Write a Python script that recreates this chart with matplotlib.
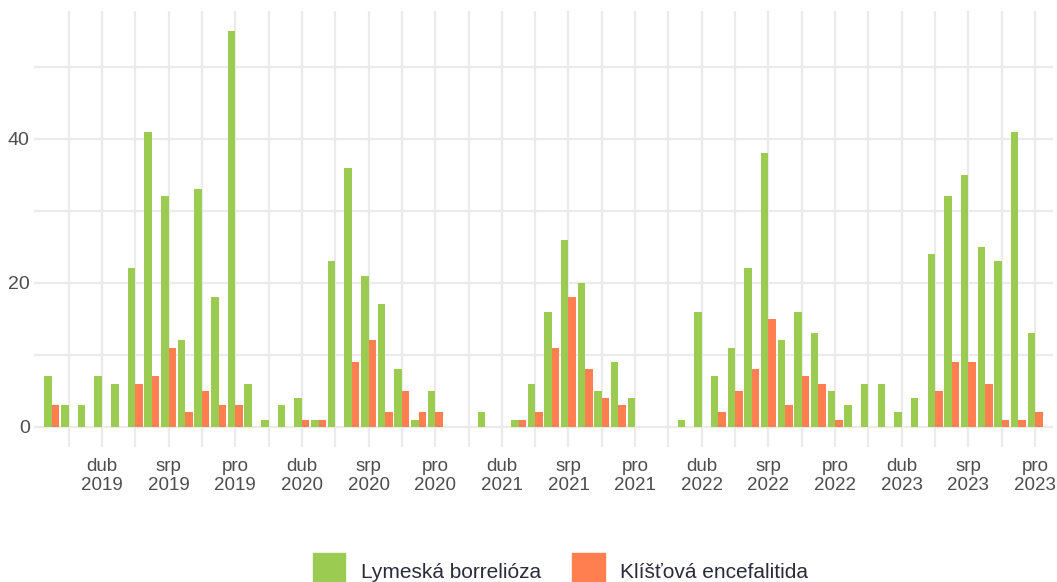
import numpy as np
import matplotlib
matplotlib.use('Agg')
import matplotlib.pyplot as plt
from matplotlib.patches import Patch

plt.rcParams['font.family'] = ['Liberation Sans', 'DejaVu Sans']

# měsíční počty 2019-2023 (leden..prosinec)
years = [2019, 2020, 2021, 2022, 2023]
lyme = [7, 3, 3, 7, 6, 22, 41, 32, 12, 33, 18, 55,
        6, 1, 3, 4, 1, 23, 36, 21, 17, 8, 1, 5,
        0, 0, 2, 0, 1, 6, 16, 26, 20, 5, 9, 4,
        0, 0, 1, 16, 7, 11, 22, 38, 12, 16, 13, 5,
        3, 6, 6, 2, 4, 24, 32, 35, 25, 23, 41, 13]
kev = [3, 0, 0, 0, 0, 6, 7, 11, 2, 5, 3, 3,
       0, 0, 0, 1, 1, 0, 9, 12, 2, 5, 2, 2,
       0, 0, 0, 0, 1, 2, 11, 18, 8, 4, 3, 0,
       0, 0, 0, 0, 2, 5, 8, 15, 3, 7, 6, 1,
       0, 0, 0, 0, 0, 5, 9, 9, 6, 1, 1, 2]
tick_months = ['dub', 'srp', 'pro']  # duben, srpen, prosinec
tick_month_idx = [3, 7, 11]
series_names = ['Lymeská borrelióza', 'Klíšťová encefalitida']
colors = ['#9BCB51', '#FF7F50']

W, H = 1057, 582
fig = plt.figure(figsize=(W / 100, H / 100), dpi=100)
ax = fig.add_axes([34 / W, 1 - 446.5 / H, (1053 - 34) / W, (446.5 - 11) / H])

x = np.arange(len(lyme))
bw = 0.45
ax.bar(x - bw / 2, lyme, width=bw, color=colors[0], zorder=2)
ax.bar(x + bw / 2, kev, width=bw, color=colors[1], zorder=2)

ax.set_xlim(-1.08, 60.08)
ax.set_ylim(-2.75, 57.75)

major = [12 * i + m for i in range(len(years)) for m in tick_month_idx]
labels = ['%s\n%d' % (tick_months[j], y) for y in years for j in range(3)]
ax.set_xticks(major)
ax.set_xticklabels(labels)
ax.set_xticks([m - 2 for m in major], minor=True)
ax.set_yticks([0, 20, 40])
ax.set_yticks([10, 30, 50], minor=True)

ax.grid(True, which='both', color='#EBEBEB', lw=1.6, zorder=0)
ax.tick_params(which='both', length=0)
ax.tick_params(axis='x', labelcolor='#4D4D4D', pad=8)
ax.tick_params(axis='y', labelcolor='#4D4D4D', pad=3)
for lab in ax.get_xticklabels():
    lab.set_fontsize(13.5)
    lab.set_linespacing(1.15)
for lab in ax.get_yticklabels():
    lab.set_fontsize(14)
for s in ax.spines.values():
    s.set_visible(False)

handles = [Patch(color=c, label=n) for c, n in zip(colors, series_names)]
fig.legend(handles=handles, ncol=2, loc='upper left',
           bbox_to_anchor=(313 / W, 1 - 553 / H), frameon=False,
           fontsize=15, handlelength=1.55, handleheight=2.3,
           handletextpad=0.75, columnspacing=1.5, borderpad=0,
           borderaxespad=0, labelcolor='#2B2B3A')

fig.savefig('out.png', dpi=100)
